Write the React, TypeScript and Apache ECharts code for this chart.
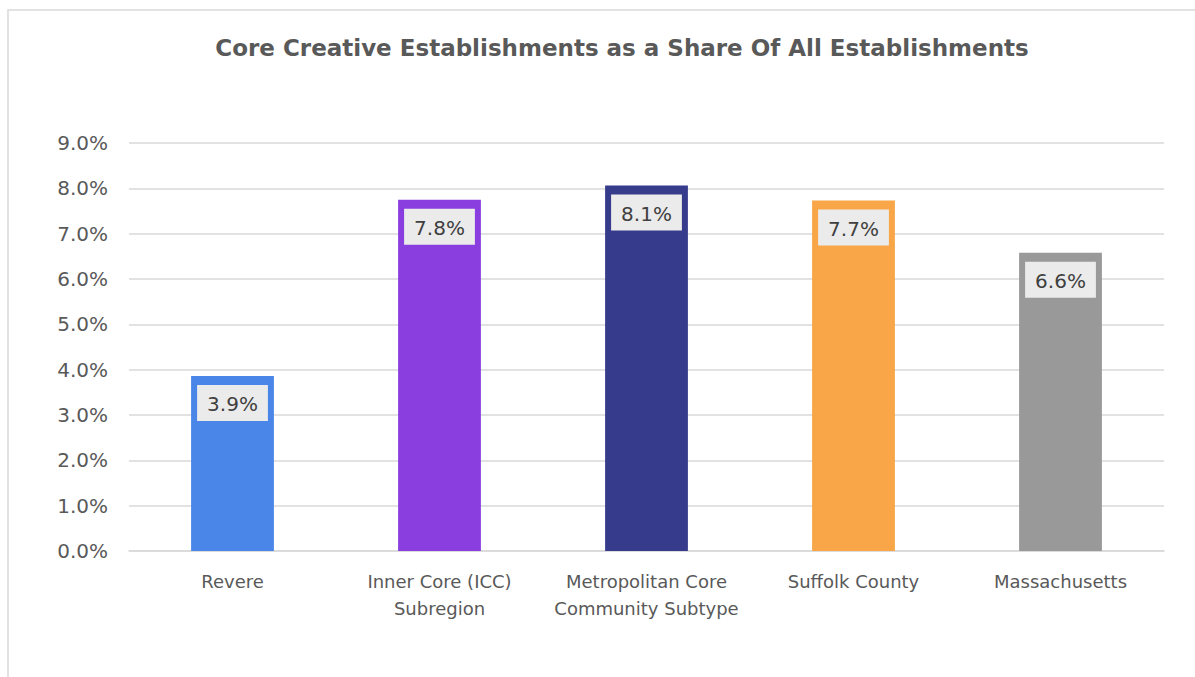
import React, { useEffect, useRef } from "react";
import * as echarts from "echarts";

const categories = [
  "Revere",
  "Inner Core (ICC)\nSubregion",
  "Metropolitan Core\nCommunity Subtype",
  "Suffolk County",
  "Massachusetts",
];
const values = [3.86, 7.75, 8.06, 7.73, 6.58];
const barColors = ["#4a86e8", "#8a3ee0", "#363b8c", "#f8a648", "#999999"];
const yTicks = [0, 1, 2, 3, 4, 5, 6, 7, 8, 9];
const title = "Core Creative Establishments as a Share Of All Establishments";

const FONT = "'DejaVu Sans', sans-serif";

export default function App() {
  const ref = useRef<HTMLDivElement>(null);
  useEffect(() => {
    if (!ref.current) return;
    const chart = echarts.init(ref.current, undefined, { renderer: "svg" });
    chart.setOption({
      animation: false,
      backgroundColor: "#ffffff",
      title: {
        text: title,
        left: 617,
        textAlign: "center",
        top: 31,
        textStyle: {
          fontFamily: FONT,
          fontSize: 23,
          fontWeight: "bold",
          color: "#595959",
        },
      },
      graphic: [
        {
          type: "rect",
          shape: { x: 8, y: 10, width: 1300, height: 800 },
          style: { fill: "none", stroke: "#d9d9d9", lineWidth: 1.5 },
          silent: true,
        },
      ],
      grid: { left: 129, right: 31, top: 143, bottom: 126, containLabel: false },
      xAxis: {
        type: "category",
        data: categories,
        axisLine: { show: true, lineStyle: { color: "#d9d9d9", width: 1.5 } },
        axisTick: { show: false },
        axisLabel: {
          fontFamily: FONT,
          fontSize: 18,
          color: "#595959",
          lineHeight: 27,
          margin: 17,
          interval: 0,
        },
      },
      yAxis: {
        type: "value",
        min: 0,
        max: 9,
        interval: 1,
        axisLine: { show: false },
        axisTick: { show: false },
        splitLine: { lineStyle: { color: "#d9d9d9", width: 1.5 } },
        axisLabel: {
          fontFamily: FONT,
          fontSize: 20,
          color: "#595959",
          margin: 21,
          formatter: (v: number) => (yTicks.includes(v) ? v.toFixed(1) + "%" : ""),
        },
      },
      series: [
        {
          type: "bar",
          barWidth: "40%",
          data: values.map((v, i) => ({ value: v, itemStyle: { color: barColors[i] } })),
          label: {
            show: true,
            position: "insideTop",
            distance: 9,
            formatter: (p: any) => p.value.toFixed(1) + "%",
            fontFamily: FONT,
            fontSize: 20,
            color: "#404040",
            backgroundColor: "#ebebeb",
            padding: [9, 10, 7, 10],
          },
        },
      ],
    });
    return () => chart.dispose();
  }, []);
  return (
    <div
      ref={ref}
      style={{ position: "fixed", left: 0, top: 0, width: 1195, height: 677 }}
    />
  );
}
